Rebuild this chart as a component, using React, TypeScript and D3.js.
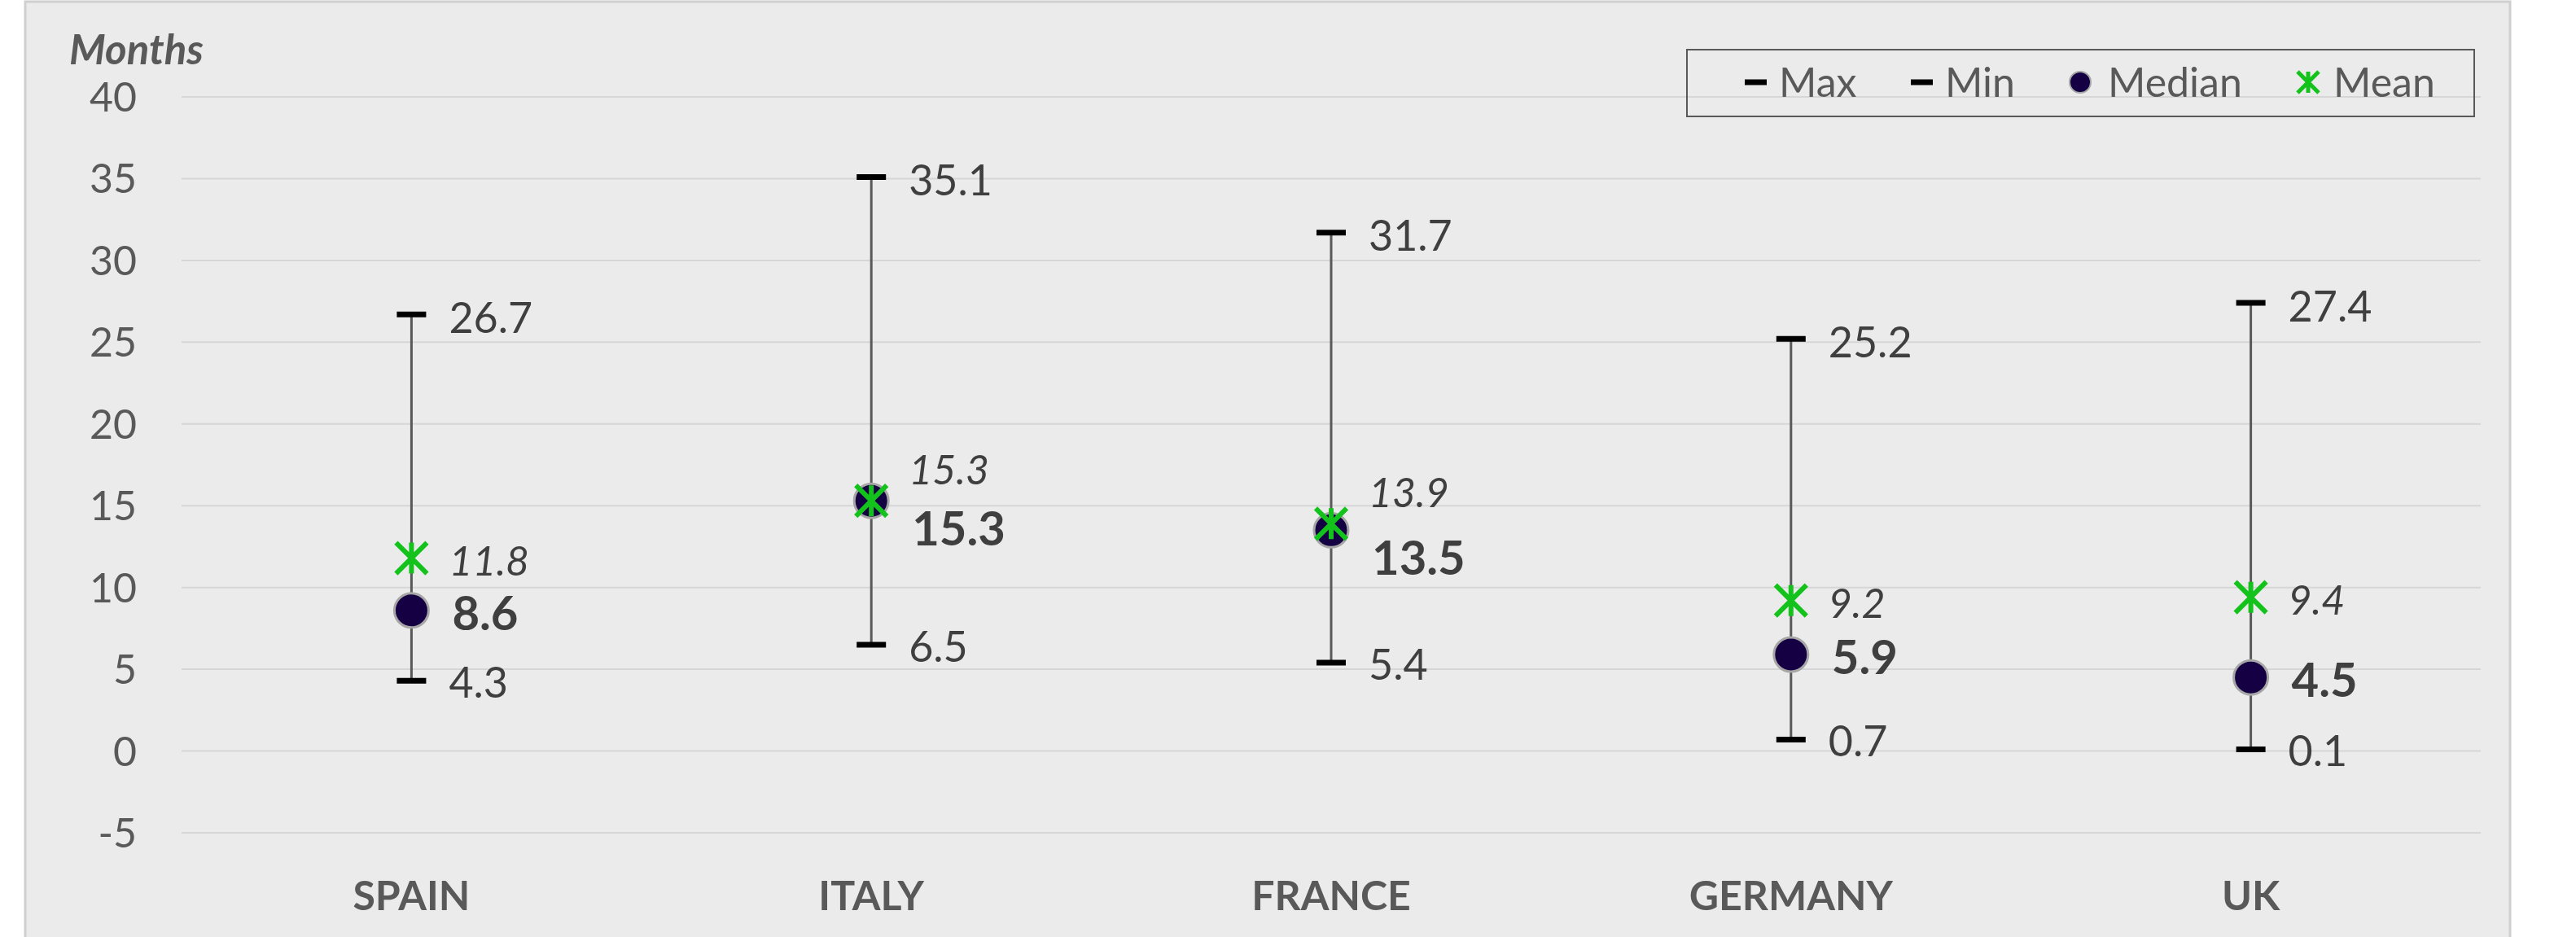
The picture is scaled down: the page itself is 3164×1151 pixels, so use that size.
import React from "react";
import { scaleBand, scaleLinear } from "d3";

const categories = ["SPAIN", "ITALY", "FRANCE", "GERMANY", "UK"];
const maxValues = [26.7, 35.1, 31.7, 25.2, 27.4];
const minValues = [4.3, 6.5, 5.4, 0.7, 0.1];
const medianValues = [8.6, 15.3, 13.5, 5.9, 4.5];
const meanValues = [11.8, 15.3, 13.9, 9.2, 9.4];
const yTickValues = [-5, 0, 5, 10, 15, 20, 25, 30, 35, 40];
const legendLabels = ["Max", "Min", "Median", "Mean"];

const W = 3164;
const H = 1151;
const plotLeft = 223;
const plotRight = 3047;
const plotTop = 119;
const plotBottom = 1023;
const font = "Lato, 'Liberation Sans', sans-serif";
const textGray = "#595959";
const labelGray = "#3f3f3f";
const green = "#14c21c";
const navy = "#140042";

const meanPath = (s: number) =>
  `M${-s},${-s}L${s},${s}M${-s},${s}L${s},${-s}M0,${-s}L0,${s}`;

const App: React.FC = () => {
  const x = scaleBand().domain(categories).range([plotLeft, plotRight]);
  const y = scaleLinear().domain([-5, 40]).range([plotBottom, plotTop]);
  const cx = (c: string) => x(c)! + x.bandwidth() / 2;

  // legend item positions
  const legendX = [2143, 2347, 2555, 2835];
  const legendTextX = [2185, 2389, 2589, 2866];
  const legendY = 101;

  return (
    <svg
      width={W}
      height={H}
      style={{ position: "absolute", left: 0, top: 0, display: "block" }}
    >
      <rect x={0} y={0} width={W} height={H} fill="#ffffff" />
      <rect
        x={31}
        y={2}
        width={3052}
        height={H + 10}
        fill="#ebebeb"
        stroke="#cfcfcf"
        strokeWidth={3}
      />

      {/* gridlines */}
      {yTickValues.map((t) => (
        <line
          key={`g${t}`}
          x1={plotLeft}
          x2={plotRight}
          y1={y(t)}
          y2={y(t)}
          stroke="#d6d6d6"
          strokeWidth={2}
        />
      ))}
      {/* y tick labels */}
      {yTickValues.map((t) => (
        <text
          key={`t${t}`}
          x={168}
          y={y(t)}
          dy="0.36em"
          textAnchor="end"
          fontFamily={font}
          fontSize={50}
          fill={textGray}
        >
          {t}
        </text>
      ))}
      <text
        x={85}
        y={79}
        fontFamily={font}
        fontSize={51}
        fontStyle="italic"
        fontWeight="bold"
        fill={textGray}
      >
        Months
      </text>

      {/* x labels */}
      {categories.map((c) => (
        <text
          key={`x${c}`}
          x={cx(c)}
          y={1100}
          dy="0.36em"
          textAnchor="middle"
          fontFamily={font}
          fontSize={50}
          fontWeight="bold"
          fill={textGray}
        >
          {c}
        </text>
      ))}

      {/* error bars */}
      {categories.map((c, i) => {
        const px = cx(c);
        const close = Math.abs(meanValues[i] - medianValues[i]) < 2;
        return (
          <g key={`b${c}`}>
            <line
              x1={px}
              x2={px}
              y1={y(maxValues[i])}
              y2={y(minValues[i])}
              stroke="#595959"
              strokeWidth={3}
            />
            <line
              x1={px - 18}
              x2={px + 18}
              y1={y(maxValues[i])}
              y2={y(maxValues[i])}
              stroke="#000"
              strokeWidth={7}
            />
            <line
              x1={px - 18}
              x2={px + 18}
              y1={y(minValues[i])}
              y2={y(minValues[i])}
              stroke="#000"
              strokeWidth={7}
            />
            <circle
              cx={px}
              cy={y(medianValues[i])}
              r={21}
              fill={navy}
              stroke="#a6a6a6"
              strokeWidth={3}
            />
            <path
              d={meanPath(19)}
              transform={`translate(${px},${y(meanValues[i])})`}
              stroke={green}
              strokeWidth={6}
              fill="none"
            />
            <text
              x={px + 46}
              y={y(maxValues[i]) + 4}
              dy="0.36em"
              fontFamily={font}
              fontSize={52}
              fill={labelGray}
            >
              {maxValues[i].toFixed(1)}
            </text>
            <text
              x={px + 46}
              y={y(minValues[i]) + 2}
              dy="0.36em"
              fontFamily={font}
              fontSize={52}
              fill={labelGray}
            >
              {minValues[i].toFixed(1)}
            </text>
            <text
              x={px + 46}
              y={y(meanValues[i]) + (close ? -38 : 3)}
              dy="0.36em"
              fontFamily={font}
              fontSize={50}
              fontStyle="italic"
              fill={labelGray}
            >
              {meanValues[i].toFixed(1)}
            </text>
            <text
              x={px + 50}
              y={y(medianValues[i]) + (close ? 34 : 3)}
              dy="0.36em"
              fontFamily={font}
              fontSize={58}
              fontWeight="bold"
              fill={labelGray}
            >
              {medianValues[i].toFixed(1)}
            </text>
          </g>
        );
      })}

      {/* legend */}
      <rect
        x={2072}
        y={61}
        width={967}
        height={82}
        fill="none"
        stroke="#595959"
        strokeWidth={2}
      />
      <line x1={legendX[0]} x2={legendX[0] + 27} y1={legendY} y2={legendY} stroke="#000" strokeWidth={7} />
      <line x1={legendX[1]} x2={legendX[1] + 27} y1={legendY} y2={legendY} stroke="#000" strokeWidth={7} />
      <circle cx={legendX[2]} cy={legendY} r={13} fill={navy} stroke="#a6a6a6" strokeWidth={2} />
      <path
        d={meanPath(13)}
        transform={`translate(${legendX[3]},${legendY})`}
        stroke={green}
        strokeWidth={5}
        fill="none"
      />
      {legendLabels.map((l, i) => (
        <text
          key={l}
          x={legendTextX[i]}
          y={legendY}
          dy="0.36em"
          fontFamily={font}
          fontSize={50}
          fill={textGray}
        >
          {l}
        </text>
      ))}
    </svg>
  );
};

export default App;
